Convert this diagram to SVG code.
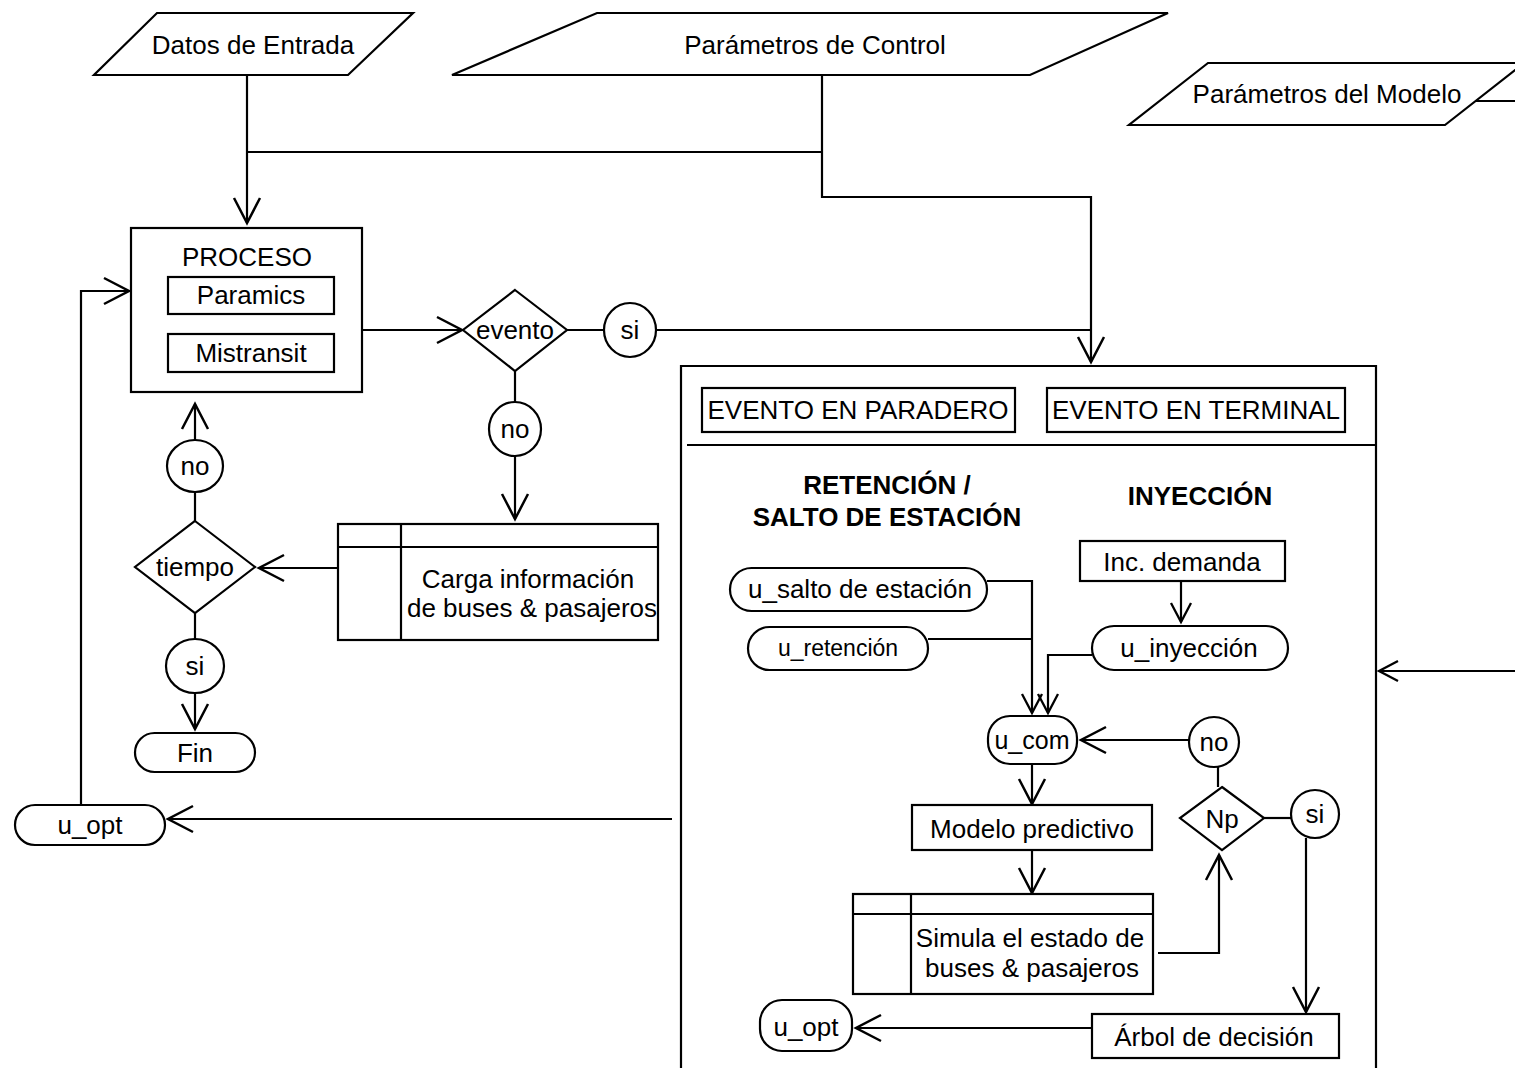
<svg xmlns="http://www.w3.org/2000/svg" width="1515" height="1068" viewBox="0 0 1515 1068">
  <style>
    .shape { fill: #fff; stroke: #000; stroke-width: 2.2; }
    .line { fill: none; stroke: #000; stroke-width: 2.2; }
    text { font-family: "Liberation Sans", Arial, sans-serif; font-size: 26px; fill: #000; text-anchor: middle; }
    .bold { font-weight: bold; }
    .big { marker-end: url(#arrow); }
    .small { marker-end: url(#arrowSmall); }
  </style>
  <defs>
    <marker id="arrow" markerUnits="userSpaceOnUse" viewBox="0 0 28 28" refX="26" refY="14" markerWidth="28" markerHeight="28" orient="auto" overflow="visible">
      <path d="M1,1 L26,14 L1,27" fill="none" stroke="#000" stroke-width="2.5"/>
    </marker>
    <marker id="arrowSmall" markerUnits="userSpaceOnUse" viewBox="0 0 22 22" refX="20" refY="11" markerWidth="22" markerHeight="22" orient="auto" overflow="visible">
      <path d="M1,1 L20,11 L1,21" fill="none" stroke="#000" stroke-width="2.3"/>
    </marker>
  </defs>
  <rect width="1515" height="1068" fill="#fff"/>

  <!-- connectors -->
  <g id="connectors">
    <path class="line big" d="M247,75 V223"/>
    <path class="line" d="M247,152 H822"/>
    <path class="line big" d="M822,75 V197 H1091 V362"/>
    <path class="line big" d="M362,330 H462"/>
    <path class="line" d="M567,330 H604"/>
    <path class="line" d="M656,330 H1091"/>
    <path class="line" d="M515,371 V402"/>
    <path class="line big" d="M515,456 V519"/>
    <path class="line big" d="M338,568 H259"/>
    <path class="line" d="M195,521 V492"/>
    <path class="line big" d="M195,440 V404"/>
    <path class="line" d="M195,613 V639"/>
    <path class="line big" d="M195,693 V729"/>
    <path class="line big" d="M672,819 H168"/>
    <path class="line big" d="M81,804 V291 H129"/>
    <path class="line small" d="M1515,671 H1379"/>
    <path class="line" d="M1476,101 H1515"/>
    <path class="line small" d="M1181,581 V622"/>
    <path class="line small" d="M987,581 H1032 V713"/>
    <path class="line" d="M928,639 H1032"/>
    <path class="line small" d="M1092,655 H1048 V713"/>
    <path class="line big" d="M1190,740 H1081"/>
    <path class="line" d="M1218,767 V787"/>
    <path class="line big" d="M1032,764 V804"/>
    <path class="line big" d="M1032,850 V893"/>
    <path class="line big" d="M1158,953 H1219 V855"/>
    <path class="line" d="M1264,818 H1291"/>
    <path class="line big" d="M1306,838 V1012"/>
    <path class="line big" d="M1092,1028 H856"/>
  </g>

  <!-- inputs -->
  <g id="datos-entrada">
    <polygon class="shape" points="157,13 413,13 348,75 94,75"/>
    <text x="253" y="54">Datos de Entrada</text>
  </g>
  <g id="parametros-control">
    <polygon class="shape" points="597,13 1168,13 1030,75 452,75"/>
    <text x="815" y="54">Parámetros de Control</text>
  </g>
  <g id="parametros-modelo">
    <polygon class="shape" points="1208,63 1524,63 1445,125 1129,125"/>
    <text x="1327" y="103">Parámetros del Modelo</text>
  </g>

  <!-- simulation process -->
  <g id="proceso">
    <rect class="shape" x="131" y="228" width="231" height="164"/>
    <text x="247" y="266">PROCESO</text>
    <rect class="shape" x="168" y="277" width="166" height="37"/>
    <text x="251" y="304">Paramics</text>
    <rect class="shape" x="168" y="334" width="166" height="38"/>
    <text x="251" y="362">Mistransit</text>
  </g>
  <g id="evento">
    <polygon class="shape" points="515,290 567,330 515,371 463,330"/>
    <text x="515" y="339">evento</text>
  </g>
  <g id="evento-si">
    <ellipse class="shape" cx="630" cy="330" rx="26" ry="27"/>
    <text x="630" y="339">si</text>
  </g>
  <g id="evento-no">
    <ellipse class="shape" cx="515" cy="429" rx="26" ry="27"/>
    <text x="515" y="438">no</text>
  </g>
  <g id="carga">
    <rect class="shape" x="338" y="524" width="320" height="116"/>
    <path class="line" d="M401,524 V640 M338,547 H658"/>
    <text x="528" y="588">Carga información</text>
    <text x="532" y="617">de buses &amp; pasajeros</text>
  </g>
  <g id="tiempo">
    <polygon class="shape" points="195,521 255,567 195,613 135,567"/>
    <text x="195" y="576">tiempo</text>
  </g>
  <g id="tiempo-no">
    <ellipse class="shape" cx="195" cy="466" rx="28" ry="26"/>
    <text x="195" y="475">no</text>
  </g>
  <g id="tiempo-si">
    <ellipse class="shape" cx="195" cy="666" rx="29" ry="27"/>
    <text x="195" y="675">si</text>
  </g>
  <g id="fin">
    <rect class="shape" x="135" y="733" width="120" height="39" rx="19.5"/>
    <text x="195" y="762">Fin</text>
  </g>
  <g id="u-opt-loop">
    <rect class="shape" x="15" y="805" width="150" height="40" rx="20"/>
    <text x="90" y="834">u_opt</text>
  </g>

  <!-- control block -->
  <g id="control">
    <path class="line" d="M681,1070 V366 H1376 V1070"/>
    <path class="line" d="M687,445 H1376"/>
  </g>
  <g id="evento-paradero">
    <rect class="shape" x="702" y="388" width="313" height="44"/>
    <text x="858" y="419">EVENTO EN PARADERO</text>
  </g>
  <g id="evento-terminal">
    <rect class="shape" x="1047" y="388" width="298" height="44"/>
    <text x="1196" y="419">EVENTO EN TERMINAL</text>
  </g>
  <g id="titulo-retencion">
    <text class="bold" x="887" y="494">RETENCIÓN /</text>
    <text class="bold" x="887" y="526">SALTO DE ESTACIÓN</text>
  </g>
  <g id="titulo-inyeccion">
    <text class="bold" x="1200" y="505">INYECCIÓN</text>
  </g>
  <g id="inc-demanda">
    <rect class="shape" x="1080" y="541" width="205" height="40"/>
    <text x="1182" y="571">Inc. demanda</text>
  </g>
  <g id="u-salto">
    <rect class="shape" x="730" y="568" width="257" height="43" rx="21.5"/>
    <text x="860" y="598">u_salto de estación</text>
  </g>
  <g id="u-retencion">
    <rect class="shape" x="748" y="627" width="180" height="43" rx="21.5"/>
    <text x="838" y="656" style="font-size:23px">u_retención</text>
  </g>
  <g id="u-inyeccion">
    <rect class="shape" x="1092" y="626" width="196" height="44" rx="22"/>
    <text x="1189" y="657">u_inyección</text>
  </g>
  <g id="u-com">
    <rect class="shape" x="988" y="716" width="89" height="48" rx="22"/>
    <text x="1032" y="749" style="font-size:25px">u_com</text>
  </g>
  <g id="np-no">
    <ellipse class="shape" cx="1214" cy="742" rx="25" ry="25"/>
    <text x="1214" y="751">no</text>
  </g>
  <g id="np">
    <polygon class="shape" points="1222,787 1264,818 1222,850 1180,818"/>
    <text x="1222" y="828">Np</text>
  </g>
  <g id="np-si">
    <ellipse class="shape" cx="1315" cy="814" rx="24" ry="24"/>
    <text x="1315" y="823">si</text>
  </g>
  <g id="modelo-predictivo">
    <rect class="shape" x="912" y="805" width="240" height="45"/>
    <text x="1032" y="838">Modelo predictivo</text>
  </g>
  <g id="simula">
    <rect class="shape" x="853" y="894" width="300" height="100"/>
    <path class="line" d="M911,894 V994 M853,914 H1153"/>
    <text x="1030" y="947">Simula el estado de</text>
    <text x="1032" y="977">buses &amp; pasajeros</text>
  </g>
  <g id="arbol">
    <rect class="shape" x="1092" y="1014" width="247" height="44"/>
    <text x="1214" y="1046">Árbol de decisión</text>
  </g>
  <g id="u-opt">
    <rect class="shape" x="760" y="1000" width="92" height="51" rx="22"/>
    <text x="806" y="1036">u_opt</text>
  </g>
</svg>
